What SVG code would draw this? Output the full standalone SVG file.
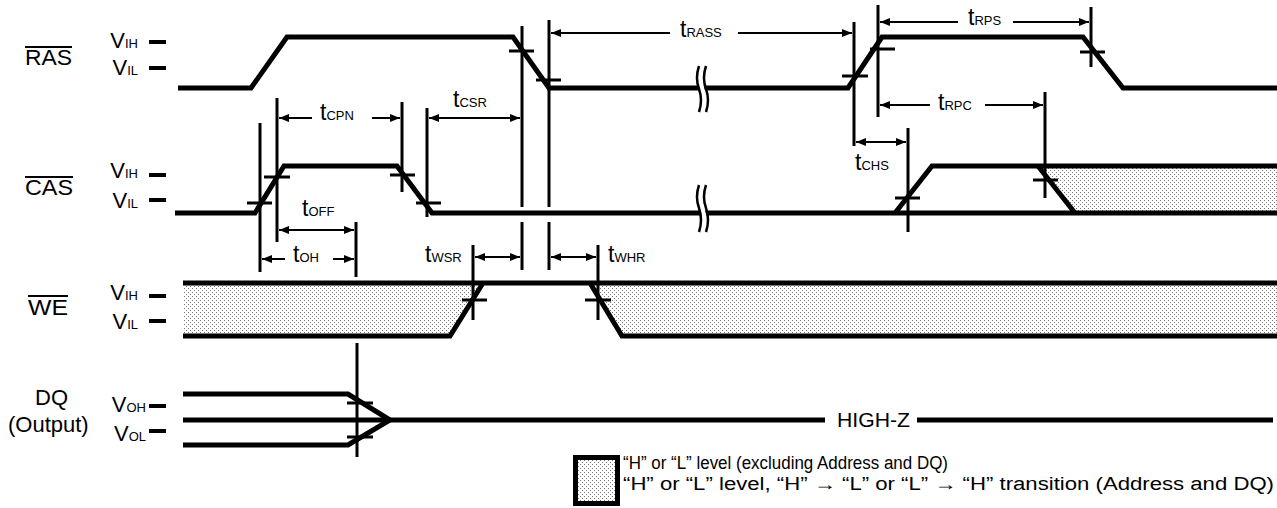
<svg xmlns="http://www.w3.org/2000/svg" width="1277" height="508" viewBox="0 0 1277 508">
<style>
.sig{fill:none;stroke:#000;stroke-width:5;stroke-linejoin:miter}
.hat{fill:url(#dots);stroke:none}
.vl{stroke:#000;stroke-width:3;fill:none}
.tk{stroke:#000;stroke-width:3}
.dash{stroke:#000;stroke-width:4}
.dim{stroke:#000;stroke-width:2;fill:none;marker-end:url(#ah)}
.dim2{stroke:#000;stroke-width:2;fill:none;marker-end:url(#ah);marker-start:url(#ahs)}
text{font-family:"Liberation Sans",Arial,sans-serif;fill:#000}
.big{font-size:22px}
.v{font-size:22px}
.s{font-size:13px}
.t{font-size:23px}
.brk{fill:none;stroke:#000;stroke-width:2.5}
.brkw{fill:none;stroke:#fff;stroke-width:5}
</style>
<defs>
<marker id="ah" markerWidth="10" markerHeight="8" refX="10" refY="4" orient="auto" markerUnits="userSpaceOnUse"><path d="M0,0 L10,4 L0,8 z" fill="#000"/></marker>
<marker id="ahs" markerWidth="10" markerHeight="8" refX="10" refY="4" orient="auto-start-reverse" markerUnits="userSpaceOnUse"><path d="M0,0 L10,4 L0,8 z" fill="#000"/></marker>
<pattern id="dots" width="4" height="4" patternUnits="userSpaceOnUse"><rect width="4" height="4" fill="#fff"/><rect width="1" height="1" fill="#777"/><rect x="2" y="2" width="1" height="1" fill="#777"/></pattern>
</defs>
<rect width="1277" height="508" fill="#fff"/>

<g id="RAS">
<text class="big" x="25" y="65" textLength="47" lengthAdjust="spacingAndGlyphs">RAS</text>
<line x1="25" y1="47" x2="72" y2="47" stroke="#000" stroke-width="2"/>
<text text-anchor="end" x="138" y="48"><tspan class="v">V</tspan><tspan class="s">IH</tspan></text>
<text text-anchor="end" x="138" y="75"><tspan class="v">V</tspan><tspan class="s">IL</tspan></text>
<line class="dash" x1="149" y1="42" x2="166" y2="42"/>
<line class="dash" x1="149" y1="68" x2="166" y2="68"/>
<polyline class="sig" points="178,88 251,88 287,37 513,37 549,88 848,88 882,37 1083,37 1123,88 1277,88"/>
<line class="tk" x1="509" y1="51" x2="534" y2="51"/>
<line class="tk" x1="536" y1="80" x2="561" y2="80"/>
<line class="tk" x1="842" y1="76" x2="868" y2="76"/>
<line class="tk" x1="870" y1="49" x2="895" y2="49"/>
<line class="tk" x1="1080" y1="52" x2="1105" y2="52"/>
<path class="brkw" d="M702,66 Q698,78 702,89 Q706,100 702,112"/>
<path class="brk" d="M699,66 Q695,78 699,89 Q703,100 699,112"/>
<path class="brk" d="M706,66 Q702,78 706,89 Q710,100 706,112"/>
</g>

<g id="CAS">
<text class="big" x="25" y="195" textLength="48" lengthAdjust="spacingAndGlyphs">CAS</text>
<line x1="25" y1="177" x2="73" y2="177" stroke="#000" stroke-width="2"/>
<text text-anchor="end" x="138" y="178"><tspan class="v">V</tspan><tspan class="s">IH</tspan></text>
<text text-anchor="end" x="138" y="208"><tspan class="v">V</tspan><tspan class="s">IL</tspan></text>
<line class="dash" x1="149" y1="175" x2="166" y2="175"/>
<line class="dash" x1="149" y1="200" x2="166" y2="200"/>
<polygon class="hat" points="1038,166 1277,166 1277,213 1075,213"/>
<polyline class="sig" points="175,213 255,213 284,166 397,166 432,213 1277,213"/>
<polyline class="sig" points="895,213 932,166 1277,166"/>
<line class="sig" x1="1038" y1="166" x2="1075" y2="213"/>
<line class="tk" x1="247" y1="203" x2="272" y2="203"/>
<line class="tk" x1="264" y1="177" x2="290" y2="177"/>
<line class="tk" x1="390" y1="175" x2="415" y2="175"/>
<line class="tk" x1="416" y1="203" x2="441" y2="203"/>
<line class="tk" x1="895" y1="198" x2="920" y2="198"/>
<line class="tk" x1="1033" y1="180" x2="1058" y2="180"/>
<path class="brkw" d="M702,185 Q698,197 702,208 Q706,220 702,232"/>
<path class="brk" d="M699,185 Q695,197 699,208 Q703,220 699,232"/>
<path class="brk" d="M706,185 Q702,197 706,208 Q710,220 706,232"/>
</g>

<g id="WE">
<text class="big" x="28" y="315" textLength="40" lengthAdjust="spacingAndGlyphs">WE</text>
<line x1="28" y1="296" x2="68" y2="296" stroke="#000" stroke-width="2"/>
<text text-anchor="end" x="138" y="300"><tspan class="v">V</tspan><tspan class="s">IH</tspan></text>
<text text-anchor="end" x="138" y="329"><tspan class="v">V</tspan><tspan class="s">IL</tspan></text>
<line class="dash" x1="149" y1="296" x2="166" y2="296"/>
<line class="dash" x1="149" y1="321" x2="166" y2="321"/>
<polygon class="hat" points="183,283 483,283 450,336 183,336"/>
<polygon class="hat" points="590,283 1277,283 1277,336 622,336"/>
<line class="sig" x1="183" y1="283" x2="1277" y2="283"/>
<polyline class="sig" points="183,336 450,336 483,283"/>
<polyline class="sig" points="590,283 622,336 1277,336"/>
<line class="tk" x1="462" y1="300" x2="487" y2="300"/>
<line class="tk" x1="585" y1="300" x2="611" y2="300"/>
</g>

<g id="DQ">
<text class="big" x="35" y="405">DQ</text>
<text class="big" x="8" y="432">(Output)</text>
<text text-anchor="end" x="146" y="412"><tspan class="v">V</tspan><tspan class="s">OH</tspan></text>
<text text-anchor="end" x="146" y="441"><tspan class="v">V</tspan><tspan class="s">OL</tspan></text>
<line class="dash" x1="149" y1="406" x2="166" y2="406"/>
<line class="dash" x1="149" y1="431" x2="166" y2="431"/>
<polyline class="sig" points="183,394 348,394 390,420 348,445 183,445"/>
<line class="sig" x1="183" y1="420" x2="825" y2="420"/>
<line class="sig" x1="917" y1="420" x2="1273" y2="420"/>
<text x="837" y="427" font-size="20" textLength="73" lengthAdjust="spacingAndGlyphs">HIGH-Z</text>
<line class="tk" x1="347" y1="403" x2="373" y2="403"/>
<line class="tk" x1="347" y1="437" x2="373" y2="437"/>
</g>

<g id="connectors">
<line class="vl" x1="260" y1="123" x2="260" y2="272"/>
<line class="vl" x1="277" y1="98" x2="277" y2="242"/>
<line class="vl" x1="402" y1="102" x2="402" y2="192"/>
<line class="vl" x1="427" y1="108" x2="427" y2="217"/>
<line class="vl" x1="356" y1="222" x2="356" y2="277"/>
<line class="vl" x1="357" y1="343" x2="357" y2="457"/>
<line class="vl" x1="522" y1="26" x2="522" y2="207"/>
<line class="vl" x1="522" y1="222" x2="522" y2="270"/>
<line class="vl" x1="549" y1="20" x2="549" y2="207"/>
<line class="vl" x1="549" y1="222" x2="549" y2="270"/>
<line class="vl" x1="473" y1="245" x2="473" y2="320"/>
<line class="vl" x1="598" y1="245" x2="598" y2="320"/>
<line class="vl" x1="854" y1="22" x2="854" y2="146"/>
<line class="vl" x1="878" y1="5" x2="878" y2="117"/>
<line class="vl" x1="908" y1="128" x2="908" y2="232"/>
<line class="vl" x1="1045" y1="92" x2="1045" y2="198"/>
<line class="vl" x1="1091" y1="7" x2="1091" y2="67"/>

<line class="dim" x1="312" y1="118" x2="279" y2="118"/>
<line class="dim" x1="372" y1="118" x2="400" y2="118"/>
<text x="320" y="120"><tspan class="t">t</tspan><tspan class="s">CPN</tspan></text>

<line class="dim2" x1="429" y1="118" x2="520" y2="118"/>
<text x="453" y="107"><tspan class="t">t</tspan><tspan class="s">CSR</tspan></text>

<line class="dim2" x1="279" y1="230" x2="354" y2="230"/>
<text x="302" y="216"><tspan class="t">t</tspan><tspan class="s">OFF</tspan></text>

<line class="dim" x1="285" y1="259" x2="262" y2="259"/>
<line class="dim" x1="333" y1="259" x2="354" y2="259"/>
<text x="293" y="262"><tspan class="t">t</tspan><tspan class="s">OH</tspan></text>

<line class="dim2" x1="475" y1="257" x2="520" y2="257"/>
<text x="425" y="262"><tspan class="t">t</tspan><tspan class="s">WSR</tspan></text>

<line class="dim2" x1="551" y1="257" x2="596" y2="257"/>
<text x="608" y="262"><tspan class="t">t</tspan><tspan class="s">WHR</tspan></text>

<line class="dim" x1="670" y1="33" x2="551" y2="33"/>
<line class="dim" x1="738" y1="33" x2="852" y2="33"/>
<text x="680" y="37"><tspan class="t">t</tspan><tspan class="s">RASS</tspan></text>

<line class="dim" x1="958" y1="22" x2="880" y2="22"/>
<line class="dim" x1="1013" y1="22" x2="1089" y2="22"/>
<text x="968" y="25"><tspan class="t">t</tspan><tspan class="s">RPS</tspan></text>

<line class="dim" x1="930" y1="105" x2="880" y2="105"/>
<line class="dim" x1="985" y1="105" x2="1043" y2="105"/>
<text x="938" y="110"><tspan class="t">t</tspan><tspan class="s">RPC</tspan></text>

<line class="dim2" x1="856" y1="142" x2="906" y2="142"/>
<text x="855" y="170"><tspan class="t">t</tspan><tspan class="s">CHS</tspan></text>
</g>

<g id="legend">
<rect x="575.5" y="457.5" width="42" height="46" fill="url(#dots)" stroke="#000" stroke-width="5"/>
<text x="623" y="469" font-size="18" textLength="325" lengthAdjust="spacingAndGlyphs">“H” or “L” level (excluding Address and DQ)</text>
<text x="623" y="490" font-size="18" textLength="651" lengthAdjust="spacingAndGlyphs">“H” or “L” level, “H” → “L” or “L” → “H” transition (Address and DQ)</text>
</g>
</svg>
